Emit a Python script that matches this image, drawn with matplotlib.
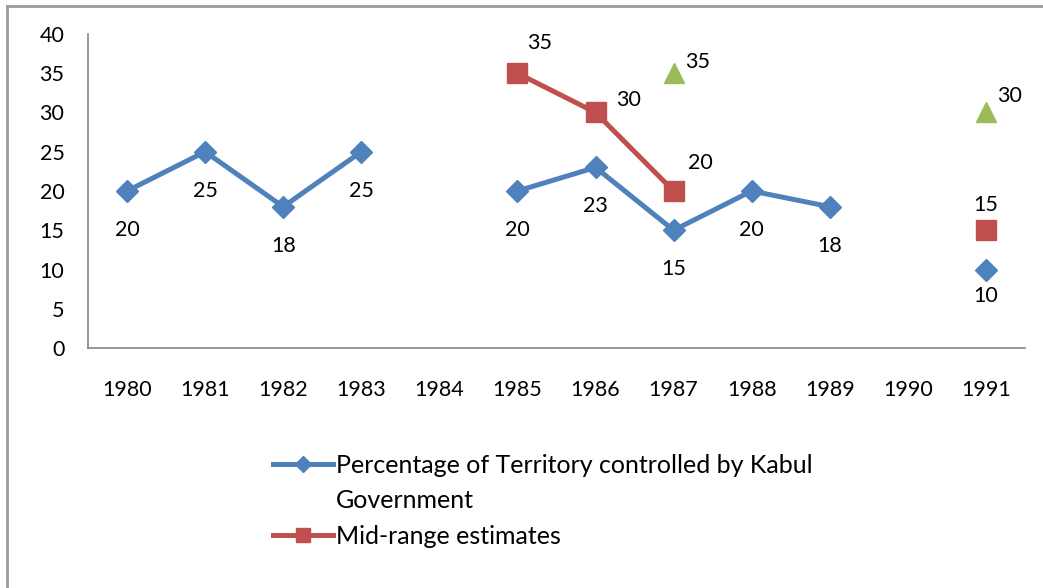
import numpy as np
import matplotlib.pyplot as plt
from matplotlib.lines import Line2D

plt.rcParams['font.family'] = ['Lato', 'DejaVu Sans']

years = ['1980', '1981', '1982', '1983', '1984', '1985',
         '1986', '1987', '1988', '1989', '1990', '1991']
kabul = [20, 25, 18, 25, np.nan, 20, 23, 15, 20, 18, np.nan, 10]
mid_range = [np.nan] * 5 + [35, 30, 20] + [np.nan] * 3 + [15]
other = [np.nan] * 7 + [35] + [np.nan] * 3 + [30]

blue = '#4F81BD'
red = '#C0504D'
green = '#9BBB59'
fs = 15.5

fig = plt.figure(figsize=(10.43, 5.88), dpi=100)
ax = fig.add_axes([88 / 1043, 1 - 348 / 588, (1025 - 88) / 1043, (348 - 34) / 588])

x = np.arange(len(years))
l1, = ax.plot(x, kabul, color=blue, lw=3.6, marker='D', ms=11)
l2, = ax.plot(x, mid_range, color=red, lw=3.6, marker='s', ms=14)
ax.plot(x, other, ls='none', marker='^', ms=14, color=green)

# data labels
for i, v in enumerate(kabul):
    if not np.isnan(v):
        dy = -26 if i == 11 else -39
        ax.annotate(f'{v:g}', (i, v), xytext=(0, dy), textcoords='offset pixels',
                    ha='center', va='center', fontsize=fs)
red_off = {5: (22, 30), 6: (33, 13), 7: (27, 28), 11: (0, 25)}
for i, v in enumerate(mid_range):
    if not np.isnan(v):
        ax.annotate(f'{v:g}', (i, v), xytext=red_off[i], textcoords='offset pixels',
                    ha='center', va='center', fontsize=fs)
green_off = {7: (24, 11), 11: (24, 16)}
for i, v in enumerate(other):
    if not np.isnan(v):
        ax.annotate(f'{v:g}', (i, v), xytext=green_off[i], textcoords='offset pixels',
                    ha='center', va='center', fontsize=fs)

ax.set_xlim(-0.5, len(years) - 0.5)
ax.set_ylim(0, 40)
ax.set_yticks(range(0, 41, 5))
ax.set_xticks(x)
ax.set_xticklabels(years)
ax.tick_params(length=0, labelsize=fs)
ax.tick_params(axis='y', pad=17)
ax.tick_params(axis='x', pad=23)
for s in ['top', 'right']:
    ax.spines[s].set_visible(False)
for s in ['left', 'bottom']:
    ax.spines[s].set_color('#868686')
    ax.spines[s].set_linewidth(1.2)

blank = Line2D([], [], color='none')
leg = fig.legend([l1, blank, l2],
                 ['Percentage of Territory controlled by Kabul', 'Government',
                  'Mid-range estimates'],
                 loc='upper left', bbox_to_anchor=(258 / 1043, 1 - 439 / 588),
                 frameon=False, fontsize=18, handlelength=2.4, handletextpad=0.12,
                 labelspacing=0.5, markerscale=0.75, borderaxespad=0.3, borderpad=0.3)

# outer chart border
fig.add_artist(Line2D([7 / 1043, 7 / 1043], [0, 1 - 6 / 588], color='#9A9A9A', lw=2))
fig.add_artist(Line2D([7 / 1043, 1], [1 - 6 / 588, 1 - 6 / 588], color='#9A9A9A', lw=2))

fig.savefig('out.png', dpi=100)
